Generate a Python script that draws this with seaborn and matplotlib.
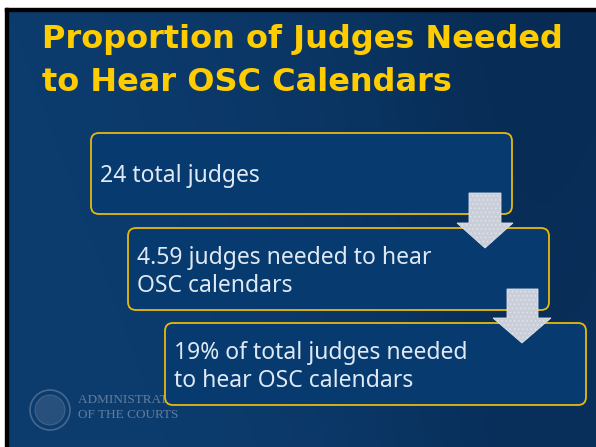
"""
Slide: proportion of judges needed to hear OSC calendars
"""

import numpy as np
import matplotlib
matplotlib.use('Agg')
import matplotlib.pyplot as plt
import seaborn as sns
from matplotlib.patches import FancyBboxPatch, Polygon, Circle, Rectangle

sns.set_style("white")
plt.rcParams['font.family'] = ['DejaVu Sans']

# slide content
title_lines = ["Proportion of Judges Needed", "to Hear OSC Calendars"]
total_judges = 24
judges_needed = 4.59
pct_needed = 19
step_texts = [
    [f"{total_judges} total judges"],
    [f"{judges_needed} judges needed to hear", "OSC calendars"],
    [f"{pct_needed}% of total judges needed", "to hear OSC calendars"],
]
footer_lines = ["ADMINISTRATIVE OFFICE", "OF THE COURTS"]

W, H = 596, 447
YELLOW = '#ffcc00'
BOX_FILL = '#073a6e'
BOX_EDGE = '#e8b90a'
TEXT_COL = '#dfe9f5'


def draw_background(ax):
    # dark blue gradient, darker towards the right middle
    xs = np.linspace(0, 1, 300)
    ys = np.linspace(0, 1, 220)
    X, Y = np.meshgrid(xs, ys)
    t = np.clip(0.55 * X + 0.25 * np.exp(-((X - 0.85) ** 2) / 0.05) - 0.15 * Y, 0, 1)
    c0 = np.array([0x0c, 0x3c, 0x6e]) / 255
    c1 = np.array([0x06, 0x26, 0x4c]) / 255
    img = c0[None, None, :] * (1 - t[..., None]) + c1[None, None, :] * t[..., None]
    ax.imshow(img, extent=(8, W, H, 11), aspect='auto', zorder=0)
    # thin black frame top/left
    ax.add_patch(Rectangle((5, 8), W, 3, color='black', zorder=1))
    ax.add_patch(Rectangle((5, 8), 3, H, color='black', zorder=1))


def draw_watermark(ax):
    ax.add_patch(Circle((50, 410), 20, fill=False, ec='#7f93ad', lw=1.2, alpha=0.5, zorder=1))
    ax.add_patch(Circle((50, 410), 15, fill=True, fc='#5d7798', ec='#7f93ad', lw=0.8, alpha=0.35, zorder=1))
    for i, line in enumerate(footer_lines):
        ax.text(78, 400 + i * 15, line, color='#8193ab', alpha=0.75, fontsize=9.5,
                family='Liberation Serif', va='center', ha='left', zorder=1)


def draw_arrow(ax, shaft_x0, shaft_x1, top, head_x0, head_x1, head_y, tip_y):
    mid = (head_x0 + head_x1) / 2
    pts = [(shaft_x0, top), (shaft_x1, top), (shaft_x1, head_y), (head_x1, head_y),
           (mid, tip_y), (head_x0, head_y), (shaft_x0, head_y)]
    ax.add_patch(Polygon(pts, closed=True, fc='#c9ced8', ec='#dfe3ea', lw=0.6,
                         hatch='....', zorder=4))


def main():
    fig = plt.figure(figsize=(W / 100, H / 100), dpi=100)
    ax = fig.add_axes([0, 0, 1, 1])
    ax.set_xlim(0, W)
    ax.set_ylim(H, 0)
    ax.axis('off')
    plt.rcParams['hatch.color'] = '#eef1f5'
    plt.rcParams['hatch.linewidth'] = 0.6

    draw_background(ax)
    draw_watermark(ax)

    # title
    for i, line in enumerate(title_lines):
        ax.text(42, 48 + i * 43, line, color=YELLOW, fontsize=23, fontweight='bold',
                va='baseline', ha='left', zorder=5)

    # boxes (x0, y0, x1, y1)
    boxes = [(91, 133, 512, 214), (128, 228, 549, 310), (165, 323, 586, 405)]
    for k, (x0, y0, x1, y1) in enumerate(boxes):
        ax.add_patch(FancyBboxPatch((x0, y0), x1 - x0, y1 - y0,
                                    boxstyle='round,pad=0,rounding_size=8',
                                    fc=BOX_FILL, ec=BOX_EDGE, lw=1.3, zorder=2 + k * 0.1))
        lines = step_texts[k]
        yb = y0 + 49 if len(lines) == 1 else y0 + 36
        for j, line in enumerate(lines):
            ax.text(x0 + 9, yb + j * 28, line, color=TEXT_COL, fontsize=16.5,
                    family='Noto Sans', va='baseline', ha='left', zorder=6)

    draw_arrow(ax, 469, 501, 193, 457, 513, 223, 248)
    draw_arrow(ax, 507, 538, 289, 493, 551, 318, 343)

    fig.savefig('out.png', dpi=100)
    plt.close(fig)


if __name__ == "__main__":
    main()
